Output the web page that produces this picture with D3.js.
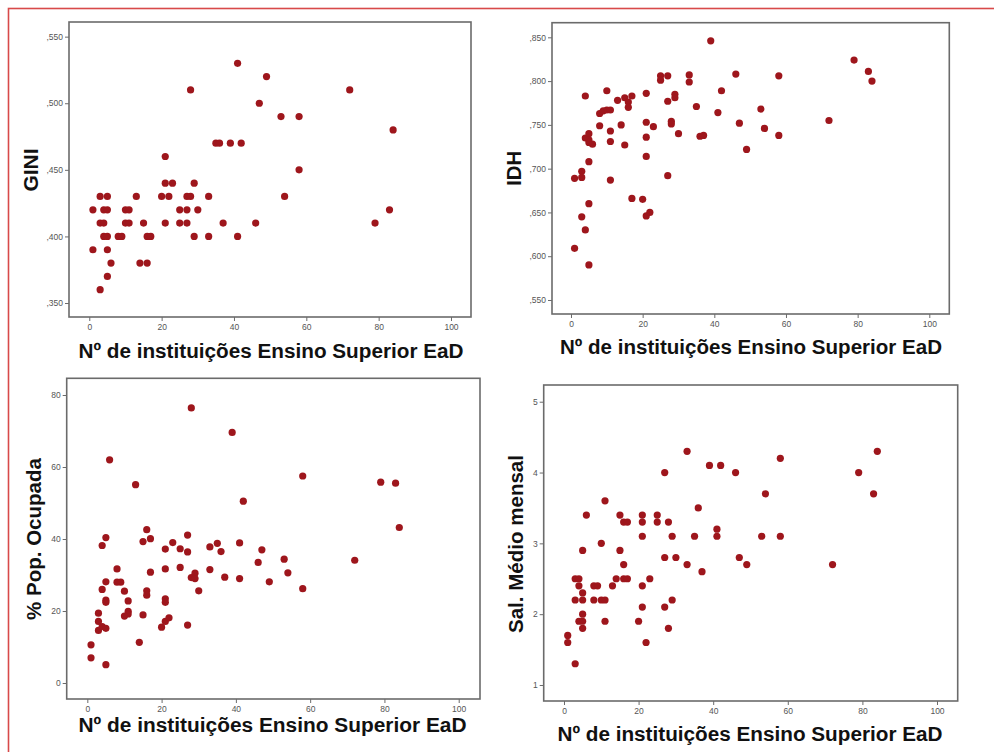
<!DOCTYPE html>
<html><head><meta charset="utf-8">
<script src="https://cdn.jsdelivr.net/npm/d3@7"></script>
<style>
html,body{margin:0;padding:0;background:#fff;}
svg{display:block;}
</style></head>
<body>
<script>
// ---------- DATA ----------
const xTickValues = [0, 20, 40, 60, 80, 100];
const xTitle = "Nº de instituições Ensino Superior EaD";

// GINI vs nº instituições
const giniX = [41,49,28,72,47,53,58,84,35,36,39,42,21,58,21,23,29,3,5,13,20,22,27,28,33,54,1,4,5,10,11,25,27,30,83,3,4,10,11,15,21,25,27,37,46,79,4,5,8,9,16,17,29,33,41,1,5,6,14,16,5,3];
const giniY = [.53,.52,.51,.51,.50,.49,.49,.48,.47,.47,.47,.47,.46,.45,.44,.44,.44,.43,.43,.43,.43,.43,.43,.43,.43,.43,.42,.42,.42,.42,.42,.42,.42,.42,.42,.41,.41,.41,.41,.41,.41,.41,.41,.41,.41,.41,.40,.40,.40,.40,.40,.40,.40,.40,.40,.39,.39,.38,.38,.38,.37,.36];
const giniTicks = [.35, .40, .45, .50, .55];
const giniTickLabels = [",350", ",400", ",450", ",500", ",550"];

// IDH vs nº instituições
const idhX = [39,25,25,27,33,33,46,58,4,10,13,15,16,17,16,21,27,29,29,42,35,41,53,8,9,10,11,8,11,14,11,15,21,23,21,28,28,30,36,37,47,54,58,49,4,5,5,5,6,5,21,3,3,1,11,27,5,17,20,21,22,3,4,1,5,72,79,83,84];
const idhY = [.846,.806,.801,.806,.807,.799,.808,.806,.783,.789,.778,.781,.776,.783,.770,.786,.777,.785,.781,.789,.771,.764,.768,.763,.766,.767,.767,.749,.743,.750,.731,.727,.753,.748,.736,.754,.751,.740,.737,.738,.752,.746,.738,.722,.735,.740,.733,.730,.728,.708,.714,.697,.690,.689,.687,.692,.660,.666,.665,.646,.650,.645,.630,.609,.590,.755,.824,.811,.800];
const idhTicks = [.55, .60, .65, .70, .75, .80, .85];
const idhTickLabels = [",550", ",600", ",650", ",700", ",750", ",800", ",850"];

// % Pop. Ocupada vs nº instituições
const popX = [28,39,6,13,58,42,79,83,84,72,16,5,4,15,17,27,23,21,25,27,33,35,36,41,47,53,46,8,21,25,17,33,29,28,29,37,41,54,49,58,30,5,8,9,4,10,16,16,5,5,11,21,21,3,11,11,10,15,3,3,4,5,20,21,22,27,14,1,1,5];
const popY = [76.4,69.6,62,55.1,57.5,50.5,55.8,55.5,43.2,34.1,42.6,40.4,38.2,39.3,40.1,41.1,39,37.2,37.3,36.4,37.8,38.8,36.5,38.9,37,34.4,33.5,31.7,31.7,32.1,30.8,31.5,30.5,29.3,29.0,29.4,29,30.6,28.1,26.2,25.6,28.1,28,28,26,25.5,25.6,24.4,23,22.4,22.8,23.4,22.4,19.4,19.9,19.2,18.6,18.9,17.1,14.6,15.7,15.2,15.5,17.1,18.1,16.1,11.3,10.6,7,5.1];
const popTicks = [0, 20, 40, 60, 80];
const popTickLabels = ["0", "20", "40", "60", "80"];

// Sal. Médio mensal vs nº instituições
const salX = [33,39,42,27,46,58,79,83,84,72,54,11,36,6,15,21,25,16,17,21,25,28,41,21,29,35,41,53,58,5,10,15,27,30,47,16,33,49,37,3,4,14,16,17,23,4,8,9,13,21,5,3,5,8,10,11,29,21,27,5,4,5,11,20,5,28,1,1,22,3];
const salY = [4.3,4.1,4.1,4.0,4.0,4.2,4.0,3.7,4.3,2.7,3.7,3.6,3.5,3.4,3.4,3.4,3.4,3.3,3.3,3.3,3.3,3.3,3.2,3.1,3.1,3.1,3.1,3.1,3.1,2.9,3.0,2.9,2.8,2.8,2.8,2.7,2.7,2.7,2.6,2.5,2.5,2.5,2.5,2.5,2.5,2.4,2.4,2.4,2.4,2.4,2.3,2.2,2.2,2.2,2.2,2.2,2.2,2.1,2.1,2.0,1.9,1.9,1.9,1.9,1.8,1.8,1.7,1.6,1.6,1.3];
const salTicks = [1, 2, 3, 4, 5];
const salTickLabels = ["1", "2", "3", "4", "5"];

// ---------- LAYOUT ----------
const W = 994, H = 752;
const svg = d3.select("body").append("svg").attr("width", W).attr("height", H);

// outer red frame
svg.append("rect").attr("x", 8.5).attr("y", 8.5).attr("width", 1100).attr("height", 900)
  .attr("fill", "none").attr("stroke", "#d84a4a").attr("stroke-width", 1.6);

const panels = [
  { xs: giniX, ys: giniY, yTicks: giniTicks, yLabels: giniTickLabels, yTitle: "GINI",
    frame: {x: 69, y: 22, w: 402, h: 295}, xDom: [-5.61, 105.53], yDom: [.3395, .5610],
    xt: {cx: 271, by: 358, len: 385}, yt: {bx: 37.7, cy: 170, len: 43} },
  { xs: idhX, ys: idhY, yTicks: idhTicks, yLabels: idhTickLabels, yTitle: "IDH",
    frame: {x: 552, y: 22.7, w: 397.3, h: 291.3}, xDom: [-5.30, 105.58], yDom: [.534, .8667],
    xt: {cx: 751, by: 354, len: 382}, yt: {bx: 521, cy: 168.3, len: 35} },
  { xs: popX, ys: popY, yTicks: popTicks, yLabels: popTickLabels, yTitle: "% Pop. Ocupada",
    frame: {x: 66.7, y: 378.3, w: 413.3, h: 320.7}, xDom: [-5.55, 105.73], yDom: [-4.44, 84.64],
    xt: {cx: 272.5, by: 731.7, len: 388}, yt: {bx: 40.7, cy: 539, len: 162} },
  { xs: salX, ys: salY, yTicks: salTicks, yLabels: salTickLabels, yTitle: "Sal. Médio mensal",
    frame: {x: 543.7, y: 385, w: 414, h: 316}, xDom: [-5.44, 105.55], yDom: [0.774, 5.236],
    xt: {cx: 750, by: 740.7, len: 385}, yt: {bx: 523, cy: 544, len: 178} }
];

const frameColor = "#6b6b6b";
const dotColor = "#9e161c";
const tickTextColor = "#555";

panels.forEach(p => {
  const f = p.frame;
  const x = d3.scaleLinear().domain(p.xDom).range([f.x, f.x + f.w]);
  const y = d3.scaleLinear().domain(p.yDom).range([f.y + f.h, f.y]);
  const g = svg.append("g");

  // axes
  const ya = d3.axisLeft(y).tickValues(p.yTicks).tickSize(4).tickPadding(2)
    .tickFormat((d, i) => p.yLabels[i]);
  const xa = d3.axisBottom(x).tickValues(xTickValues).tickSize(4).tickPadding(3)
    .tickFormat(d => String(d));
  const gy = g.append("g").attr("transform", `translate(${f.x},0)`).call(ya);
  const gx = g.append("g").attr("transform", `translate(0,${f.y + f.h})`).call(xa);
  [gx, gy].forEach(a => {
    a.select(".domain").remove();
    a.selectAll(".tick line").attr("stroke", frameColor).attr("stroke-width", 1);
    a.selectAll(".tick text").attr("fill", tickTextColor)
      .style("font-family", "'Liberation Sans', Arial, sans-serif").style("font-size", "8.5px");
  });

  // frame
  g.append("rect").attr("x", f.x).attr("y", f.y).attr("width", f.w).attr("height", f.h)
    .attr("fill", "none").attr("stroke", frameColor).attr("stroke-width", 1.6);

  // points
  g.append("g").selectAll("circle").data(p.xs.map((v, i) => [v, p.ys[i]])).join("circle")
    .attr("cx", d => x(d[0])).attr("cy", d => y(d[1])).attr("r", 3.6)
    .attr("fill", dotColor);

  // titles
  g.append("text").attr("x", p.xt.cx).attr("y", p.xt.by).attr("text-anchor", "middle")
    .attr("textLength", p.xt.len).attr("lengthAdjust", "spacingAndGlyphs")
    .style("font-family", "'Liberation Sans', Arial, sans-serif").style("font-weight", "bold")
    .style("font-size", "20.7px").attr("fill", "#111").text(xTitle);
  g.append("text").attr("transform", `translate(${p.yt.bx},${p.yt.cy}) rotate(-90)`)
    .attr("text-anchor", "middle")
    .attr("textLength", p.yt.len).attr("lengthAdjust", "spacingAndGlyphs")
    .style("font-family", "'Liberation Sans', Arial, sans-serif").style("font-weight", "bold")
    .style("font-size", "20.7px").attr("fill", "#111").text(p.yTitle);
});
</script>
</body></html>
